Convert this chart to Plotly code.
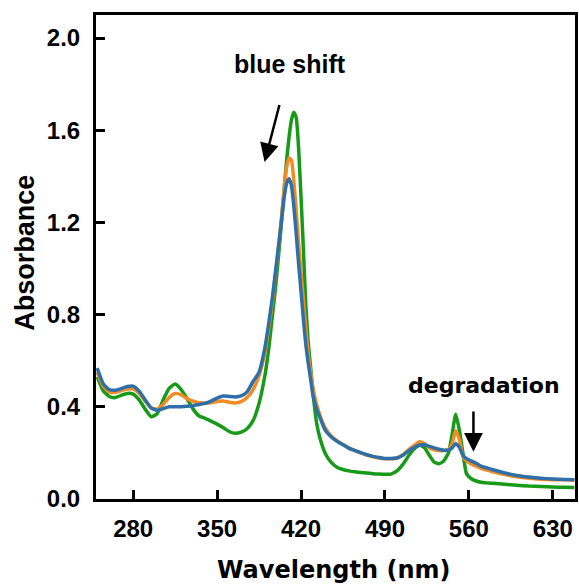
import plotly.graph_objects as go

wavelength = [250, 255, 260, 265, 270, 275, 280, 285, 290, 295, 300, 305, 310, 315, 320, 325, 330, 335, 340, 345,
              350, 355, 360, 365, 370, 375, 380, 385, 390, 393, 396, 399, 402, 404, 406, 408, 410, 412, 414, 416,
              418, 420, 422, 424, 426, 428, 430, 433, 436, 440, 445, 450, 455, 460, 465, 470, 475, 480, 485, 490,
              495, 500, 505, 510, 515, 519, 523, 527, 531, 535, 539, 543, 546, 549, 552, 555, 558, 562, 566, 570,
              575, 580, 590, 600, 610, 620, 630, 640, 648]

abs_green = [0.53, 0.47, 0.445, 0.44, 0.45, 0.458, 0.455, 0.43, 0.39, 0.357, 0.37, 0.43, 0.48, 0.499, 0.475, 0.435, 0.39, 0.36, 0.35, 0.338,
             0.325, 0.31, 0.293, 0.285, 0.29, 0.305, 0.34, 0.415, 0.54, 0.65, 0.79, 0.93, 1.10, 1.22, 1.35, 1.47, 1.57, 1.645, 1.678, 1.655,
             1.52, 1.31, 1.08, 0.84, 0.68, 0.57, 0.46, 0.33, 0.26, 0.20, 0.16, 0.138, 0.128, 0.122, 0.118, 0.115, 0.113, 0.11, 0.108, 0.107,
             0.108, 0.122, 0.15, 0.19, 0.22, 0.234, 0.222, 0.19, 0.16, 0.153, 0.165, 0.20, 0.28, 0.368, 0.30, 0.20, 0.11, 0.088, 0.078, 0.073,
             0.07, 0.068, 0.064, 0.06, 0.056, 0.054, 0.052, 0.051, 0.05]

abs_orange = [0.55, 0.49, 0.465, 0.462, 0.47, 0.477, 0.478, 0.458, 0.425, 0.395, 0.39, 0.41, 0.44, 0.458, 0.452, 0.435, 0.424, 0.418, 0.416, 0.418,
              0.423, 0.425, 0.42, 0.417, 0.422, 0.44, 0.475, 0.535, 0.64, 0.74, 0.85, 0.99, 1.13, 1.24, 1.35, 1.44, 1.48, 1.47, 1.38, 1.25,
              1.11, 0.98, 0.86, 0.74, 0.63, 0.55, 0.48, 0.41, 0.36, 0.31, 0.275, 0.253, 0.236, 0.222, 0.21, 0.20, 0.19, 0.183, 0.178, 0.175,
              0.175, 0.178, 0.192, 0.215, 0.235, 0.248, 0.24, 0.222, 0.213, 0.21, 0.21, 0.215, 0.24, 0.296, 0.26, 0.185, 0.165, 0.152, 0.142, 0.133,
              0.125, 0.118, 0.106, 0.096, 0.09, 0.086, 0.084, 0.083, 0.082]

abs_blue = [0.568, 0.50, 0.475, 0.472, 0.479, 0.488, 0.49, 0.468, 0.43, 0.395, 0.385, 0.392, 0.40, 0.40, 0.40, 0.402, 0.405, 0.41, 0.415, 0.425,
            0.438, 0.447, 0.445, 0.443, 0.447, 0.465, 0.51, 0.55, 0.66, 0.76, 0.87, 1.0, 1.13, 1.22, 1.31, 1.37, 1.39, 1.36, 1.27, 1.15,
            1.02, 0.90, 0.78, 0.67, 0.59, 0.52, 0.45, 0.39, 0.35, 0.30, 0.27, 0.25, 0.235, 0.22, 0.21, 0.20, 0.192, 0.185, 0.18, 0.176,
            0.176, 0.178, 0.19, 0.21, 0.225, 0.234, 0.235, 0.228, 0.222, 0.216, 0.212, 0.212, 0.222, 0.24, 0.225, 0.19, 0.175, 0.165, 0.155, 0.143,
            0.135, 0.127, 0.113, 0.102, 0.095, 0.09, 0.087, 0.085, 0.084]

x_ticks = [280, 350, 420, 490, 560, 630]
y_ticks = [0.0, 0.4, 0.8, 1.2, 1.6, 2.0]

fig = go.Figure()
series = [(abs_green, "#179a17"), (abs_orange, "#f28a25"), (abs_blue, "#2f6fa8")]
for vals, col in series:
    fig.add_trace(go.Scatter(x=wavelength, y=vals, mode="lines",
                             line=dict(color=col, width=3.5, shape="spline", smoothing=0.5),
                             showlegend=False, hoverinfo="skip"))

tickfont = dict(family="Liberation Sans, Arial", size=24, color="black", weight="bold")

fig.update_layout(
    width=579, height=584,
    margin=dict(l=96, r=1, t=15, b=85),
    paper_bgcolor="white", plot_bgcolor="white",
    xaxis=dict(range=[249, 648.5], tickvals=x_ticks, ticks="inside", ticklen=9, tickwidth=3,
               tickcolor="black", showline=True, linewidth=3, linecolor="black", mirror=True,
               showgrid=False, zeroline=False, tickfont=tickfont, ticklabelstandoff=6),
    yaxis=dict(range=[0, 2.1], tickvals=y_ticks, tickformat=".1f", ticks="inside", ticklen=9, tickwidth=3,
               tickcolor="black", showline=True, linewidth=3, linecolor="black", mirror=True,
               showgrid=False, zeroline=False, tickfont=tickfont, ticklabelstandoff=8),
)

fig.add_annotation(text="Wavelength (nm)", xref="paper", yref="paper", x=0.496, y=-0.147,
                   xanchor="center", yanchor="middle", showarrow=False,
                   font=dict(family="DejaVu Sans", size=24, color="black", weight="bold"))
fig.add_annotation(text="Absorbance", xref="paper", yref="paper", x=-0.149, y=0.508,
                   xanchor="center", yanchor="middle", textangle=-90, showarrow=False,
                   font=dict(family="Liberation Sans, Arial", size=27, color="black", weight="bold"))
fig.add_annotation(text="blue shift", x=410.6, y=1.886, xref="x", yref="y", showarrow=False,
                   xanchor="center", yanchor="middle",
                   font=dict(family="Liberation Sans, Arial", size=25, color="black", weight="bold"))
fig.add_annotation(text="degradation", x=572.5, y=0.494, xref="x", yref="y", showarrow=False,
                   xanchor="center", yanchor="middle",
                   font=dict(family="DejaVu Sans", size=22, color="black", weight="bold"))
fig.add_annotation(x=389.6, y=1.462, ax=402.3, ay=1.716, xref="x", yref="y", axref="x", ayref="y",
                   text="", showarrow=True, arrowhead=2, arrowsize=1.5, arrowwidth=2.5, arrowcolor="black")
fig.add_annotation(x=563.8, y=0.205, ax=563.8, ay=0.386, xref="x", yref="y", axref="x", ayref="y",
                   text="", showarrow=True, arrowhead=2, arrowsize=1.5, arrowwidth=2.5, arrowcolor="black")

fig.write_html("out.html")
